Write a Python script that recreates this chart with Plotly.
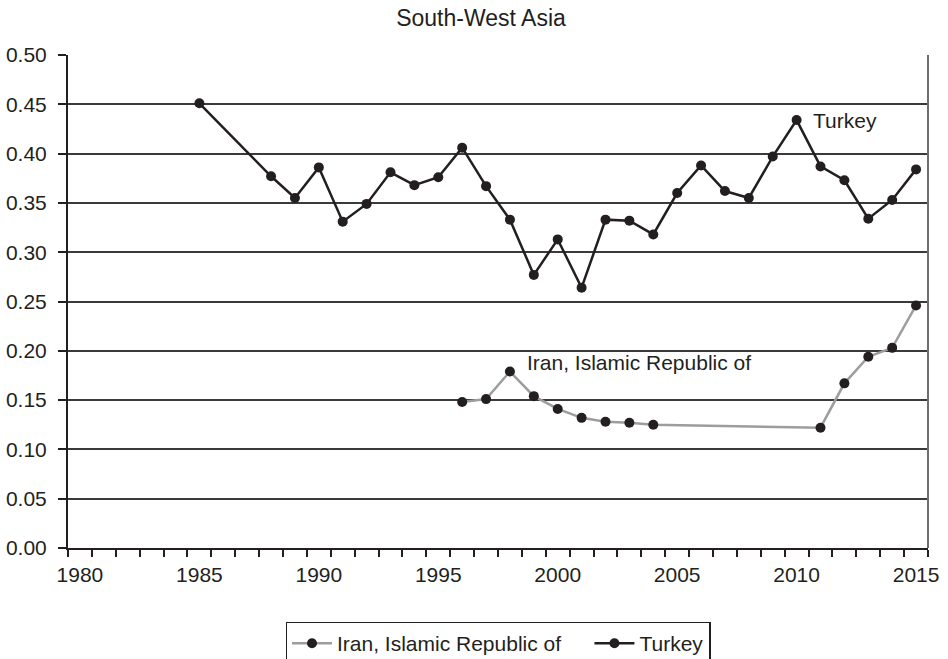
import plotly.graph_objects as go

# ---- data ----
turkey_years = [1985, 1988, 1989, 1990, 1991, 1992, 1993, 1994, 1995, 1996, 1997, 1998,
                1999, 2000, 2001, 2002, 2003, 2004, 2005, 2006, 2007, 2008, 2009, 2010,
                2011, 2012, 2013, 2014, 2015]
turkey_vals = [0.451, 0.377, 0.355, 0.386, 0.331, 0.349, 0.381, 0.368, 0.376, 0.406, 0.367, 0.333,
               0.277, 0.313, 0.264, 0.333, 0.332, 0.318, 0.360, 0.388, 0.362, 0.355, 0.397, 0.434,
               0.387, 0.373, 0.334, 0.353, 0.384]

iran_years = [1996, 1997, 1998, 1999, 2000, 2001, 2002, 2003, 2004, 2011, 2012, 2013, 2014, 2015]
iran_vals = [0.148, 0.151, 0.179, 0.154, 0.141, 0.132, 0.128, 0.127, 0.125, 0.122, 0.167, 0.194, 0.203, 0.246]

x_tickvals = [1980, 1985, 1990, 1995, 2000, 2005, 2010, 2015]
y_tickvals = [0.00, 0.05, 0.10, 0.15, 0.20, 0.25, 0.30, 0.35, 0.40, 0.45, 0.50]

title_text = "South-West Asia"
FONT = "Liberation Sans, Arial, sans-serif"
TXT = "#231f20"

fig = go.Figure()
fig.add_trace(go.Scatter(
    x=iran_years, y=iran_vals, name="Iran, Islamic Republic of&nbsp;&nbsp;&nbsp;&nbsp;",
    mode="lines+markers",
    line=dict(color="#9d9d9d", width=2.5),
    marker=dict(color="#231f20", size=10),
))
fig.add_trace(go.Scatter(
    x=turkey_years, y=turkey_vals, name="Turkey",
    mode="lines+markers",
    line=dict(color="#231f20", width=2.5),
    marker=dict(color="#231f20", size=10),
))

fig.add_annotation(x=2010.6, y=0.4335, text="Turkey", showarrow=False,
                   xanchor="left", yanchor="middle",
                   font=dict(family=FONT, size=21, color=TXT))
fig.add_annotation(x=1998.64, y=0.1884, text="Iran, Islamic Republic of", showarrow=False,
                   xanchor="left", yanchor="middle",
                   font=dict(family=FONT, size=21, color=TXT))

# right border of plot area
fig.add_shape(type="line", xref="paper", yref="paper", x0=1, x1=1, y0=0, y1=1,
              line=dict(color="#6e6e6e", width=2))

fig.update_layout(
    width=948, height=659,
    margin=dict(l=68, r=20, t=55, b=111, autoexpand=False),
    paper_bgcolor="white", plot_bgcolor="white",
    font=dict(family=FONT, size=21, color=TXT),
    title=dict(text=title_text, x=481/948, xref="container", xanchor="center",
               y=1 - 18/659, yref="container", yanchor="middle",
               font=dict(family=FONT, size=23, color=TXT)),
    showlegend=True,
    legend=dict(orientation="h", x=0.5, xanchor="center", xref="paper",
                y=(548.3 - 622) / 493.6, yanchor="top", yref="paper",
                bordercolor="#231f20", borderwidth=1.5,
                font=dict(family=FONT, size=21, color=TXT),
                itemwidth=40, tracegroupgap=0),
    xaxis=dict(
        range=[1979.5, 2015.5], tickmode="array", tickvals=x_tickvals,
        ticktext=[str(v) for v in x_tickvals],
        ticks="", showgrid=False, zeroline=False,
        showline=True, linecolor="#231f20", linewidth=2,
        ticklabelstandoff=7,
        tickfont=dict(family=FONT, size=21, color=TXT),
        minor=dict(tick0=1979.5, dtick=1, ticks="outside", ticklen=7,
                   tickcolor="#231f20", tickwidth=1.5, showgrid=False),
    ),
    yaxis=dict(
        range=[0, 0.5], tickmode="array", tickvals=y_tickvals,
        ticktext=[f"{v:.2f}" for v in y_tickvals],
        ticks="outside", ticklen=8, tickcolor="#231f20", tickwidth=1.5,
        showgrid=True, gridcolor="#3a3a3a", gridwidth=1.5,
        zeroline=False, showline=True, linecolor="#231f20", linewidth=2,
        ticklabelstandoff=7,
        tickfont=dict(family=FONT, size=21, color=TXT),
    ),
)

fig.write_html("out.html", config={"displayModeBar": False},
               post_script="document.body.style.margin='0';document.body.style.overflow='hidden';")
